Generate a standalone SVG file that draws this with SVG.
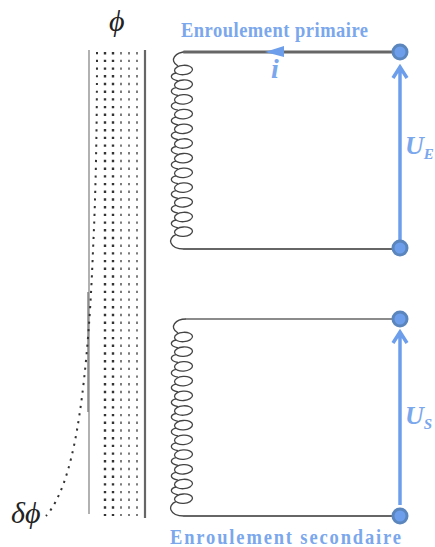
<svg xmlns="http://www.w3.org/2000/svg" width="435" height="547" viewBox="0 0 435 547">
<style>
.wire{fill:none;stroke:#666;stroke-linecap:round}
.coil{fill:none;stroke:#444;stroke-width:1.300}
.lab{font-family:"Liberation Serif",serif;font-weight:bold;fill:#7ba7ec;font-size:18.500px}
.sym{font-family:"Liberation Serif",serif;font-style:italic;font-weight:bold;fill:#7ba7ec}
.blk{font-family:"Liberation Serif",serif;font-style:italic;fill:#222}
.term{fill:#6d9eeb;stroke:#5b86bd;stroke-width:3}
.arr{stroke:#6d9eeb;stroke-width:3.500;fill:none}
.dots{fill:none;stroke:#333;stroke-width:2.400;stroke-dasharray:2.400 5.300}
.dots2{fill:none;stroke:#777;stroke-width:1.900;stroke-dasharray:2.400 5.300}
.dots3{fill:none;stroke:#333;stroke-width:2;stroke-dasharray:2.200 5.500}
</style>
<defs>
<g id="turn" class="coil">
<ellipse cx="183.500" cy="0" rx="9" ry="4.700" transform="rotate(-4 183.500 0)"/>
<path d="M176 3C170 4.500 169 9 178 10.800"/>
</g>
</defs>
<g id="core">
<path d="M89 50V514" stroke="#888" stroke-width="1.300" fill="none"/>
<path d="M88 292V412" stroke="#777" stroke-width="1.300" fill="none"/>
<path d="M145 50V518" stroke="#666" stroke-width="2.200" fill="none"/>
<path class="dots" d="M105 52V516M113 52V516"/>
<path class="dots2" d="M121 52V516M129 52V516M137 52V516"/>
<path class="dots3" d="M97 52C97 120 96 190 93 250C90 330 84 390 77 430C70 470 60 500 46 516"/>
</g>
<g id="coil-primary">
<path class="coil" d="M186 52C176 52 168 60 178 66"/>
<use href="#turn" y="70"/><use href="#turn" y="84.700"/><use href="#turn" y="99.400"/><use href="#turn" y="114.100"/>
<use href="#turn" y="128.800"/><use href="#turn" y="143.500"/><use href="#turn" y="158.200"/><use href="#turn" y="172.900"/>
<use href="#turn" y="187.600"/><use href="#turn" y="202.300"/><use href="#turn" y="217"/>
<ellipse class="coil" cx="183.500" cy="231.700" rx="9" ry="4.700" transform="rotate(-4 183.500 231.700)"/>
<path class="coil" d="M176 234.700C167 238 169 249 184 249"/>
</g>
<g id="coil-secondary">
<path class="coil" d="M186 319C176 319 168 327 178 333"/>
<use href="#turn" y="337"/><use href="#turn" y="351.700"/><use href="#turn" y="366.400"/><use href="#turn" y="381.100"/>
<use href="#turn" y="395.800"/><use href="#turn" y="410.500"/><use href="#turn" y="425.200"/><use href="#turn" y="439.900"/>
<use href="#turn" y="454.600"/><use href="#turn" y="469.300"/><use href="#turn" y="484"/>
<ellipse class="coil" cx="183.500" cy="498.700" rx="9" ry="4.700" transform="rotate(-4 183.500 498.700)"/>
<path class="coil" d="M176 501.700C167 505 169 516 184 516"/>
</g>
<g id="connectors">
<path class="wire" stroke-width="3" d="M184 52H395"/>
<path class="wire" stroke-width="2" d="M184 249H395"/>
<path class="wire" stroke-width="1.600" d="M186 319H395"/>
<path class="wire" stroke-width="2" d="M184 516H395"/>
<path d="M265 52L284 46V57Z" fill="#6d9eeb"/>
<path class="arr" d="M400 240V67M393 78L400 67L407 78"/>
<path class="arr" d="M400 505V332M393 343L400 332L407 343"/>
</g>
<g id="terminals">
<circle class="term" cx="400" cy="52" r="7"/>
<circle class="term" cx="400" cy="248" r="7"/>
<circle class="term" cx="400" cy="319" r="7"/>
<circle class="term" cx="400" cy="516" r="7"/>
</g>
<g id="labels">
<text class="lab" transform="translate(181 37) scale(1 1.120)" textLength="187">Enroulement primaire</text>
<text class="lab" transform="translate(170 544) scale(1 1.120)" textLength="231">Enroulement secondaire</text>
<text class="sym" x="271" y="78" font-size="28">i</text>
<text class="sym" x="405" y="154" font-size="26">U<tspan font-size="15" dy="5">E</tspan></text>
<text class="sym" x="405" y="424" font-size="26">U<tspan font-size="15" dy="5">S</tspan></text>
<text class="blk" x="109" y="31" font-size="30">ϕ</text>
<text class="blk" x="11" y="523" font-size="30">δϕ</text>
</g>
</svg>
